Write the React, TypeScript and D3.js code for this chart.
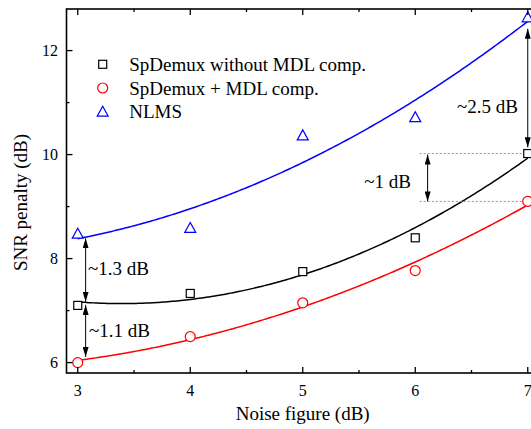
import React from "react";
import * as d3 from "d3";

// values
const noiseFigure = [3, 4, 5, 6, 7];
const withoutMdl = [7.1, 7.33, 7.75, 8.4, 10.02];
const withMdl = [6.0, 6.5, 7.15, 7.77, 9.1];
const nlms = [8.48, 8.59, 10.37, 10.72, 12.64];

const xMajor = [3, 4, 5, 6, 7];
const xMinor = [3.5, 4.5, 5.5, 6.5];
const yMajor = [6, 8, 10, 12];
const yMinor = [7, 9, 11];

const legendLabels = ["SpDemux without MDL comp.", "SpDemux + MDL comp.", "NLMS"];

// gap annotations: x, from, to (data units)
const gaps = [
  { label: "~2.5 dB", x: 7.0, y1: 12.42, y2: 10.14 },
  { label: "~1 dB", x: 6.11, y1: 10.0, y2: 9.1 },
  { label: "~1.3 dB", x: 3.07, y1: 8.39, y2: 7.17 },
  { label: "~1.1 dB", x: 3.07, y1: 7.11, y2: 6.11 },
];
const guideLevels = [10.02, 9.1];

const width = 531;
const height = 429;
const margin = { top: 9, bottom: 56, left: 66.5, right: -8 };
const font = "Liberation Serif";

// least squares quadratic fit
const quadFit = (xs: number[], ys: number[]) => {
  const S = (f: (x: number, y: number) => number) =>
    d3.sum(xs, (x, i) => f(x, ys[i]));
  const m = [
    [xs.length, S((x) => x), S((x) => x * x)],
    [S((x) => x), S((x) => x * x), S((x) => x ** 3)],
    [S((x) => x * x), S((x) => x ** 3), S((x) => x ** 4)],
  ];
  const v = [S((x, y) => y), S((x, y) => x * y), S((x, y) => x * x * y)];
  // gaussian elimination
  for (let i = 0; i < 3; i++) {
    for (let j = i + 1; j < 3; j++) {
      const f = m[j][i] / m[i][i];
      for (let k = i; k < 3; k++) m[j][k] -= f * m[i][k];
      v[j] -= f * v[i];
    }
  }
  const c = [0, 0, 0];
  for (let i = 2; i >= 0; i--) {
    let s = v[i];
    for (let k = i + 1; k < 3; k++) s -= m[i][k] * c[k];
    c[i] = s / m[i][i];
  }
  return (x: number) => c[0] + c[1] * x + c[2] * x * x;
};

const Label = (props: any) => (
  <text {...props} style={{ fontFamily: font }} fontFamily={font} />
);

const App = () => {
  const x = d3.scaleLinear([2.9, 7.1], [margin.left, width - margin.right]);
  const y = d3.scaleLinear([5.8, 12.8], [height - margin.bottom, margin.top]);

  const series = [
    { values: withoutMdl, color: "black", shape: "square" },
    { values: withMdl, color: "red", shape: "circle" },
    { values: nlms, color: "blue", shape: "triangle" },
  ];

  const samples = d3.range(3, 7.0001, 0.02);
  const line = d3
    .line<number[]>()
    .x((d) => x(d[0]))
    .y((d) => y(d[1]));

  const marker = (shape: string, cx: number, cy: number, color: string, key: string) => {
    if (shape === "square")
      return (
        <rect key={key} x={cx - 4} y={cy - 4} width={8} height={8}
          fill="white" stroke={color} strokeWidth={1.2} />
      );
    if (shape === "circle")
      return <circle key={key} cx={cx} cy={cy} r={5} fill="white" stroke={color} strokeWidth={1.2} />;
    return (
      <path key={key} d={`M${cx - 5.5},${cy + 4.5}L${cx + 5.5},${cy + 4.5}L${cx},${cy - 5.5}Z`}
        fill="white" stroke={color} strokeWidth={1.2} />
    );
  };

  const x0 = x(2.9), x1 = x(7.1), yT = y(12.8), yB = y(5.8);

  return (
    <svg width={width} height={height}
      style={{ position: "absolute", left: 0, top: 0, background: "white" }}>
      <defs>
        <marker id="head" viewBox="0 0 10 6" refX={10} refY={3}
          markerWidth={10} markerHeight={6} markerUnits="userSpaceOnUse" orient="auto-start-reverse">
          <path d="M0,0L10,3L0,6Z" fill="black" />
        </marker>
      </defs>

      {/* fit curves */}
      {series.map((s, i) => {
        const f = quadFit(noiseFigure, s.values);
        return (
          <path key={"fit" + i} d={line(samples.map((t) => [t, f(t)])) || ""}
            fill="none" stroke={s.color} strokeWidth={1.5} />
        );
      })}

      {/* guide lines */}
      {guideLevels.map((g, i) => (
        <line key={"g" + i} x1={x(6.04)} x2={x(6.95)} y1={y(g)} y2={y(g)}
          stroke="#999" strokeWidth={1} strokeDasharray="2,2" />
      ))}

      {/* gap arrows */}
      {gaps.map((g, i) => (
        <line key={"a" + i} x1={x(g.x)} x2={x(g.x)} y1={y(g.y1)} y2={y(g.y2)}
          stroke="black" strokeWidth={1}
          markerStart="url(#head)" markerEnd="url(#head)" />
      ))}
      <Label x={518} y={113} fontSize={19} textAnchor="end">{gaps[0].label}</Label>
      <Label x={411} y={188} fontSize={19} textAnchor="end">{gaps[1].label}</Label>
      <Label x={88} y={275} fontSize={19}>{gaps[2].label}</Label>
      <Label x={89} y={337} fontSize={19}>{gaps[3].label}</Label>

      {/* data points */}
      {series.map((s, i) =>
        s.values.map((v, j) => marker(s.shape, x(noiseFigure[j]), y(v), s.color, `p${i}-${j}`))
      )}

      {/* frame */}
      <rect x={x0} y={yT} width={x1 - x0} height={yB - yT} fill="none" stroke="black" strokeWidth={1.6} />

      {/* ticks */}
      {xMajor.map((t) => (
        <g key={"xm" + t}>
          <line x1={x(t)} x2={x(t)} y1={yB} y2={yB - 6} stroke="black" strokeWidth={1.3} />
          <line x1={x(t)} x2={x(t)} y1={yT} y2={yT + 6} stroke="black" strokeWidth={1.3} />
          <Label x={x(t)} y={396} fontSize={16} textAnchor="middle">{t}</Label>
        </g>
      ))}
      {xMinor.map((t) => (
        <g key={"xn" + t}>
          <line x1={x(t)} x2={x(t)} y1={yB} y2={yB - 3} stroke="black" strokeWidth={1.3} />
          <line x1={x(t)} x2={x(t)} y1={yT} y2={yT + 3} stroke="black" strokeWidth={1.3} />
        </g>
      ))}
      {yMajor.map((t) => (
        <g key={"ym" + t}>
          <line x1={x0} x2={x0 + 6} y1={y(t)} y2={y(t)} stroke="black" strokeWidth={1.3} />
          <Label x={58} y={y(t) + 5.5} fontSize={16} textAnchor="end">{t}</Label>
        </g>
      ))}
      {yMinor.map((t) => (
        <line key={"yn" + t} x1={x0} x2={x0 + 3} y1={y(t)} y2={y(t)} stroke="black" strokeWidth={1.3} />
      ))}

      {/* axis titles */}
      <Label x={302.7} y={420} fontSize={19} textAnchor="middle">Noise figure (dB)</Label>
      <Label transform="translate(27,202.5) rotate(-90)" fontSize={19} textAnchor="middle">
        SNR penalty (dB)
      </Label>

      {/* legend */}
      {series.map((s, i) => (
        <g key={"l" + i}>
          {marker(s.shape, 102.7, 64.3 + i * 23.7, s.color, "lm" + i)}
          <Label x={129.3} y={71 + i * 23.7} fontSize={19}>{legendLabels[i]}</Label>
        </g>
      ))}
    </svg>
  );
};

export default App;
